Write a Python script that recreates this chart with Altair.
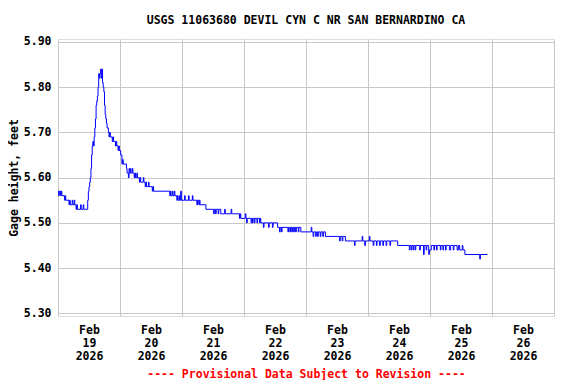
import json
import altair as alt
import pandas as pd

# ---------------- data (hours after 2026-02-19 00:00, gage height ft) ----------------
# step points: each value holds from its hour until the next point
pre_rise = [(0, 5.57), (0.25, 5.56), (0.5, 5.57), (1.0, 5.56), (1.25, 5.57), (1.5, 5.56),
            (2.5, 5.55), (2.75, 5.56), (3.0, 5.55), (4.25, 5.54), (4.5, 5.55), (4.75, 5.54),
            (5.5, 5.55), (5.75, 5.54), (6.25, 5.55), (6.5, 5.54), (7.0, 5.53), (7.25, 5.54),
            (7.5, 5.53), (8.75, 5.54), (9.0, 5.53), (9.75, 5.54), (10.0, 5.53)]
rise_fall = [(11.5, 5.55), (11.75, 5.57), (12.0, 5.58), (12.25, 5.59), (12.5, 5.60),
             (12.75, 5.62), (13.0, 5.65), (13.25, 5.67), (13.5, 5.68), (13.75, 5.67),
             (14.0, 5.69), (14.25, 5.71), (14.5, 5.73), (14.75, 5.76), (15.0, 5.77),
             (15.25, 5.78), (15.5, 5.80), (15.75, 5.83), (16.0, 5.82), (16.25, 5.83),
             (16.5, 5.84), (16.75, 5.82), (17.0, 5.84), (17.25, 5.81), (17.5, 5.80),
             (17.75, 5.79), (18.0, 5.76), (18.25, 5.74), (18.5, 5.73), (18.75, 5.72),
             (19.0, 5.71), (19.5, 5.70), (19.75, 5.69), (20.0, 5.70), (20.25, 5.69),
             (21.0, 5.68), (21.25, 5.69), (21.5, 5.68), (22.25, 5.67), (22.5, 5.68),
             (22.75, 5.67), (23.25, 5.66), (23.5, 5.67), (23.75, 5.66), (24.25, 5.65),
             (24.75, 5.63), (25.0, 5.64), (25.25, 5.63), (26.5, 5.62), (26.75, 5.61),
             (27.25, 5.60), (27.5, 5.62), (27.75, 5.61), (28.0, 5.62), (28.25, 5.61),
             (28.75, 5.62), (29.0, 5.61), (29.5, 5.60), (29.75, 5.61), (30.0, 5.60),
             (30.5, 5.61), (30.75, 5.60), (31.5, 5.59), (31.75, 5.60), (32.0, 5.59),
             (33.0, 5.60), (33.25, 5.59), (33.75, 5.58), (34.0, 5.59), (34.25, 5.58),
             (35.0, 5.59), (35.25, 5.58), (36.5, 5.57), (36.75, 5.58), (37.0, 5.57)]
recession_1 = [(43.25, 5.56), (43.5, 5.57), (43.75, 5.56), (44.25, 5.57), (44.5, 5.56),
               (45.0, 5.57), (45.25, 5.56), (46.0, 5.55), (46.25, 5.56), (46.5, 5.55),
               (47.0, 5.56), (47.25, 5.55), (47.5, 5.57), (47.75, 5.55), (49.0, 5.56),
               (49.25, 5.55), (50.5, 5.56), (50.75, 5.55), (52.0, 5.56), (52.25, 5.55),
               (53.75, 5.54), (54.0, 5.55), (54.5, 5.54), (54.75, 5.55), (55.0, 5.54),
               (57.25, 5.53), (60.25, 5.52), (60.5, 5.53), (61.0, 5.52), (61.25, 5.53),
               (62.0, 5.52), (62.25, 5.53), (63.0, 5.52), (64.5, 5.53), (64.75, 5.52),
               (67.0, 5.53), (67.25, 5.52), (70.25, 5.51), (70.5, 5.52), (70.75, 5.51),
               (72.5, 5.52), (72.75, 5.51), (73.0, 5.50), (73.25, 5.51), (74.75, 5.50),
               (75.0, 5.51), (75.25, 5.50), (75.5, 5.51), (76.0, 5.50), (76.25, 5.51),
               (77.0, 5.50), (77.25, 5.51), (78.0, 5.50), (78.25, 5.51), (78.5, 5.50)]
recession_2 = [(79.5, 5.49), (79.75, 5.50), (81.5, 5.49), (81.75, 5.50), (83.0, 5.49),
               (83.25, 5.50), (85.0, 5.49), (85.75, 5.48), (86.0, 5.49), (86.5, 5.48),
               (86.75, 5.49), (89.0, 5.48), (89.25, 5.49), (89.75, 5.48), (90.0, 5.49),
               (90.5, 5.48), (90.75, 5.49), (91.25, 5.48), (91.5, 5.49), (92.0, 5.48),
               (92.25, 5.49), (93.0, 5.48), (93.25, 5.49), (94.0, 5.48), (98.0, 5.49),
               (98.25, 5.48), (98.75, 5.47), (99.0, 5.48), (99.75, 5.47), (100.0, 5.48),
               (100.5, 5.47), (100.75, 5.48), (101.5, 5.47), (101.75, 5.48), (102.5, 5.47),
               (102.75, 5.48), (103.5, 5.47), (109.0, 5.46), (109.25, 5.47), (110.0, 5.46),
               (110.25, 5.47), (111.25, 5.46), (114.75, 5.45), (115.0, 5.46), (117.75, 5.47),
               (118.0, 5.46), (118.75, 5.45), (119.0, 5.46), (120.5, 5.47), (120.75, 5.46),
               (122.0, 5.45), (122.25, 5.46), (123.25, 5.45), (123.5, 5.46), (124.5, 5.45),
               (124.75, 5.46), (125.75, 5.45), (126.0, 5.46), (127.0, 5.45), (127.25, 5.46),
               (128.5, 5.45), (128.75, 5.46), (131.5, 5.45)]
recession_3 = [(136.0, 5.44), (136.25, 5.45), (136.75, 5.44), (137.0, 5.45), (137.5, 5.44),
               (137.75, 5.45), (138.25, 5.44), (138.5, 5.45), (140.0, 5.44), (140.25, 5.45),
               (141.5, 5.43), (141.75, 5.45), (142.5, 5.44), (142.75, 5.45), (143.5, 5.43),
               (143.75, 5.44), (144.5, 5.45), (145.5, 5.44), (145.75, 5.45), (146.5, 5.44),
               (146.75, 5.45), (148.0, 5.44), (148.25, 5.45), (149.0, 5.44), (149.25, 5.45),
               (150.0, 5.44), (150.25, 5.45), (151.5, 5.44), (152.0, 5.45), (153.0, 5.44),
               (153.25, 5.45), (154.5, 5.44), (155.0, 5.45), (155.5, 5.44), (156.5, 5.45),
               (156.75, 5.44), (157.5, 5.43), (163.25, 5.42), (163.5, 5.43), (166.25, 5.43)]

day_labels = ["19", "20", "21", "22", "23", "24", "25", "26"]
month_label = "Feb"
year_label = "2026"
y_ticks = [5.30, 5.40, 5.50, 5.60, 5.70, 5.80, 5.90]
title_text = "USGS 11063680 DEVIL CYN C NR SAN BERNARDINO CA"
y_title = "Gage height, feet"
note_text = "---- Provisional Data Subject to Revision ----"

rows = pre_rise + rise_fall + recession_1 + recession_2 + recession_3
df = pd.DataFrame(rows, columns=["hour", "gage"])

FONT = "DejaVu Sans Mono"
FS = 11.5

label_expr = ("datum.value % 24 === 12 ? ['" + month_label + "', "
              + json.dumps(day_labels).replace('"', "'")
              + "[floor(datum.value / 24)], '" + year_label + "'] : ''")

x_axis = alt.Axis(
    values=list(range(0, 193, 12)),
    labelExpr=label_expr,
    gridOpacity={"condition": {"test": "datum.value % 24 === 0", "value": 1}, "value": 0},
    gridColor="#c8c8c8",
    ticks=False,
    domain=False,
    labelFont=FONT, labelFontSize=FS, labelFontWeight="bold", labelColor="black",
    labelLineHeight=13, labelPadding=8, labelFlush=False, labelOverlap=False,
    title=note_text, titleFont=FONT, titleFontSize=FS, titleFontWeight="bold",
    titleColor="red", titlePadding=7,
)

y_axis = alt.Axis(
    values=y_ticks, format=".2f",
    gridColor="#c8c8c8",
    ticks=False, domain=False,
    labelFont=FONT, labelFontSize=FS, labelFontWeight="bold", labelColor="black",
    labelPadding=7,
    title=y_title, titleFont=FONT, titleFontSize=FS, titleFontWeight="bold",
    titleColor="black", titlePadding=4,
)

chart = alt.Chart(df).mark_line(
    interpolate="step-after", color="#0000ff", strokeWidth=1, clip=True
).encode(
    x=alt.X("hour:Q", scale=alt.Scale(domain=[0, 192], nice=False, zero=False), axis=x_axis),
    y=alt.Y("gage:Q", scale=alt.Scale(domain=[5.294, 5.9066], nice=False, zero=False), axis=y_axis),
).properties(
    width=496, height=277,
    title=alt.TitleParams(title_text, font=FONT, fontSize=FS, fontWeight="bold",
                          color="black", anchor="middle", frame="group", offset=9),
    autosize=alt.AutoSizeParams(type="none"),
    padding={"left": 50, "top": 31, "right": 14, "bottom": 64},
).configure_view(
    stroke="black", strokeWidth=1.5
).configure(background="white")

chart.save("out.html", embed_options={"renderer": "svg", "actions": False})
